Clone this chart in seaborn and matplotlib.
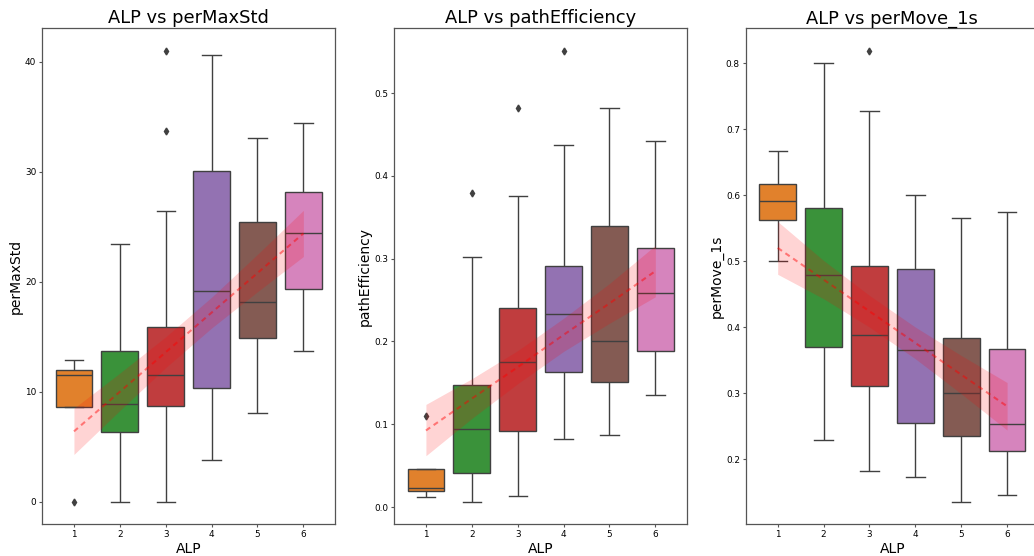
import numpy as np
import pandas as pd
import matplotlib
matplotlib.use('Agg')
import matplotlib.pyplot as plt
import seaborn as sns

alp_levels = [1, 2, 3, 4, 5, 6]

# perMaxStd box stats per ALP level
maxstd_whislo = [8.6, 0.0, 0.0, 3.8, 8.1, 13.7]
maxstd_q1 = [8.6, 6.3, 8.7, 10.3, 14.85, 19.35]
maxstd_med = [11.5, 8.9, 11.5, 19.2, 18.15, 24.4]
maxstd_q3 = [11.95, 13.7, 15.85, 30.1, 25.4, 28.2]
maxstd_whishi = [12.9, 23.4, 26.4, 40.6, 33.05, 34.4]
maxstd_fliers = [[0.0], [], [33.7, 41.0], [], [], []]
maxstd_fit = [6.4, 10.0, 13.6, 17.2, 20.8, 24.4]
maxstd_fit_lo = [4.3, 8.3, 12.2, 15.8, 19.1, 22.3]
maxstd_fit_hi = [8.5, 11.7, 15.0, 18.6, 22.5, 26.5]

# pathEfficiency
patheff_whislo = [0.0124, 0.0064, 0.0128, 0.0825, 0.0865, 0.1348]
patheff_q1 = [0.0193, 0.041, 0.0918, 0.1626, 0.1513, 0.1888]
patheff_med = [0.0225, 0.0942, 0.1747, 0.2335, 0.2008, 0.258]
patheff_q3 = [0.0459, 0.1477, 0.241, 0.2906, 0.339, 0.3135]
patheff_whishi = [0.0459, 0.3015, 0.376, 0.437, 0.4826, 0.4424]
patheff_fliers = [[0.110], [0.379], [0.482], [0.551], [], []]
patheff_fit = [0.0925, 0.131, 0.169, 0.208, 0.246, 0.285]
patheff_fit_lo = [0.062, 0.107, 0.149, 0.188, 0.222, 0.254]
patheff_fit_hi = [0.124, 0.155, 0.189, 0.228, 0.270, 0.316]

# perMove_1s
move_whislo = [0.5, 0.2288, 0.1818, 0.1722, 0.1353, 0.1449]
move_q1 = [0.5626, 0.3706, 0.311, 0.254, 0.2343, 0.2121]
move_med = [0.5918, 0.479, 0.3873, 0.366, 0.300, 0.2535]
move_q3 = [0.617, 0.580, 0.4929, 0.4879, 0.3833, 0.3671]
move_whishi = [0.667, 0.8, 0.7277, 0.6005, 0.565, 0.5752]
move_fliers = [[], [], [0.8186], [], [], []]
move_fit = [0.52, 0.472, 0.424, 0.376, 0.328, 0.28]
move_fit_lo = [0.48, 0.443, 0.40, 0.352, 0.299, 0.244]
move_fit_hi = [0.56, 0.501, 0.448, 0.40, 0.357, 0.316]

palette = dict(zip(alp_levels, sns.color_palette('tab10')[1:7]))
line_gray = '#404040'


def box_frame(col, whislo, q1, med, q3, whishi, fliers, k=20):
    # rebuild a sample per level whose quartiles/whiskers equal the read stats
    rows = []
    for i, lvl in enumerate(alp_levels):
        vals = fliers[i] + [whislo[i]] + [q1[i]] * k + [med[i]] * k + [q3[i]] * k + [whishi[i]]
        rows += [(lvl, v) for v in vals]
    return pd.DataFrame(rows, columns=['ALP', col])


def alp_panel(ax, col, df, fit, fit_lo, fit_hi):
    sns.boxplot(data=df, x='ALP', y=col, hue='ALP', palette=palette, legend=False,
                linewidth=1.0, linecolor=line_gray, fliersize=3.5,
                flierprops={'marker': 'd', 'markerfacecolor': line_gray, 'markeredgecolor': line_gray},
                ax=ax)
    pos = np.arange(len(alp_levels))
    ax.fill_between(pos, fit_lo, fit_hi, color='red', alpha=0.17, linewidth=0, zorder=5)
    ax.plot(pos, fit, color='red', linestyle=(0, (2.5, 2)), linewidth=1.5, alpha=0.45, zorder=6)

    ax.set_title('ALP vs ' + col, fontsize=12.9, pad=3.6)
    ax.set_xlabel('ALP', fontsize=10, labelpad=2.2)
    ax.set_ylabel(col, fontsize=10, labelpad=1.8)
    ax.tick_params(labelsize=6.4, length=2.4, width=0.8, pad=2.0, color='#555555')
    for s in ax.spines.values():
        s.set_color('#555555')
        s.set_linewidth(0.9)


fig = plt.figure(figsize=(10.34, 5.56), dpi=100)
ax1 = fig.add_axes([0.0409, 0.057, 0.2831, 0.892])
ax2 = fig.add_axes([0.3813, 0.057, 0.2831, 0.892])
ax3 = fig.add_axes([0.7215, 0.057, 0.2831, 0.892])

alp_panel(ax1, 'perMaxStd',
          box_frame('perMaxStd', maxstd_whislo, maxstd_q1, maxstd_med, maxstd_q3, maxstd_whishi, maxstd_fliers),
          maxstd_fit, maxstd_fit_lo, maxstd_fit_hi)
alp_panel(ax2, 'pathEfficiency',
          box_frame('pathEfficiency', patheff_whislo, patheff_q1, patheff_med, patheff_q3, patheff_whishi, patheff_fliers),
          patheff_fit, patheff_fit_lo, patheff_fit_hi)
alp_panel(ax3, 'perMove_1s',
          box_frame('perMove_1s', move_whislo, move_q1, move_med, move_q3, move_whishi, move_fliers),
          move_fit, move_fit_lo, move_fit_hi)

fig.savefig('out.png', dpi=100)
